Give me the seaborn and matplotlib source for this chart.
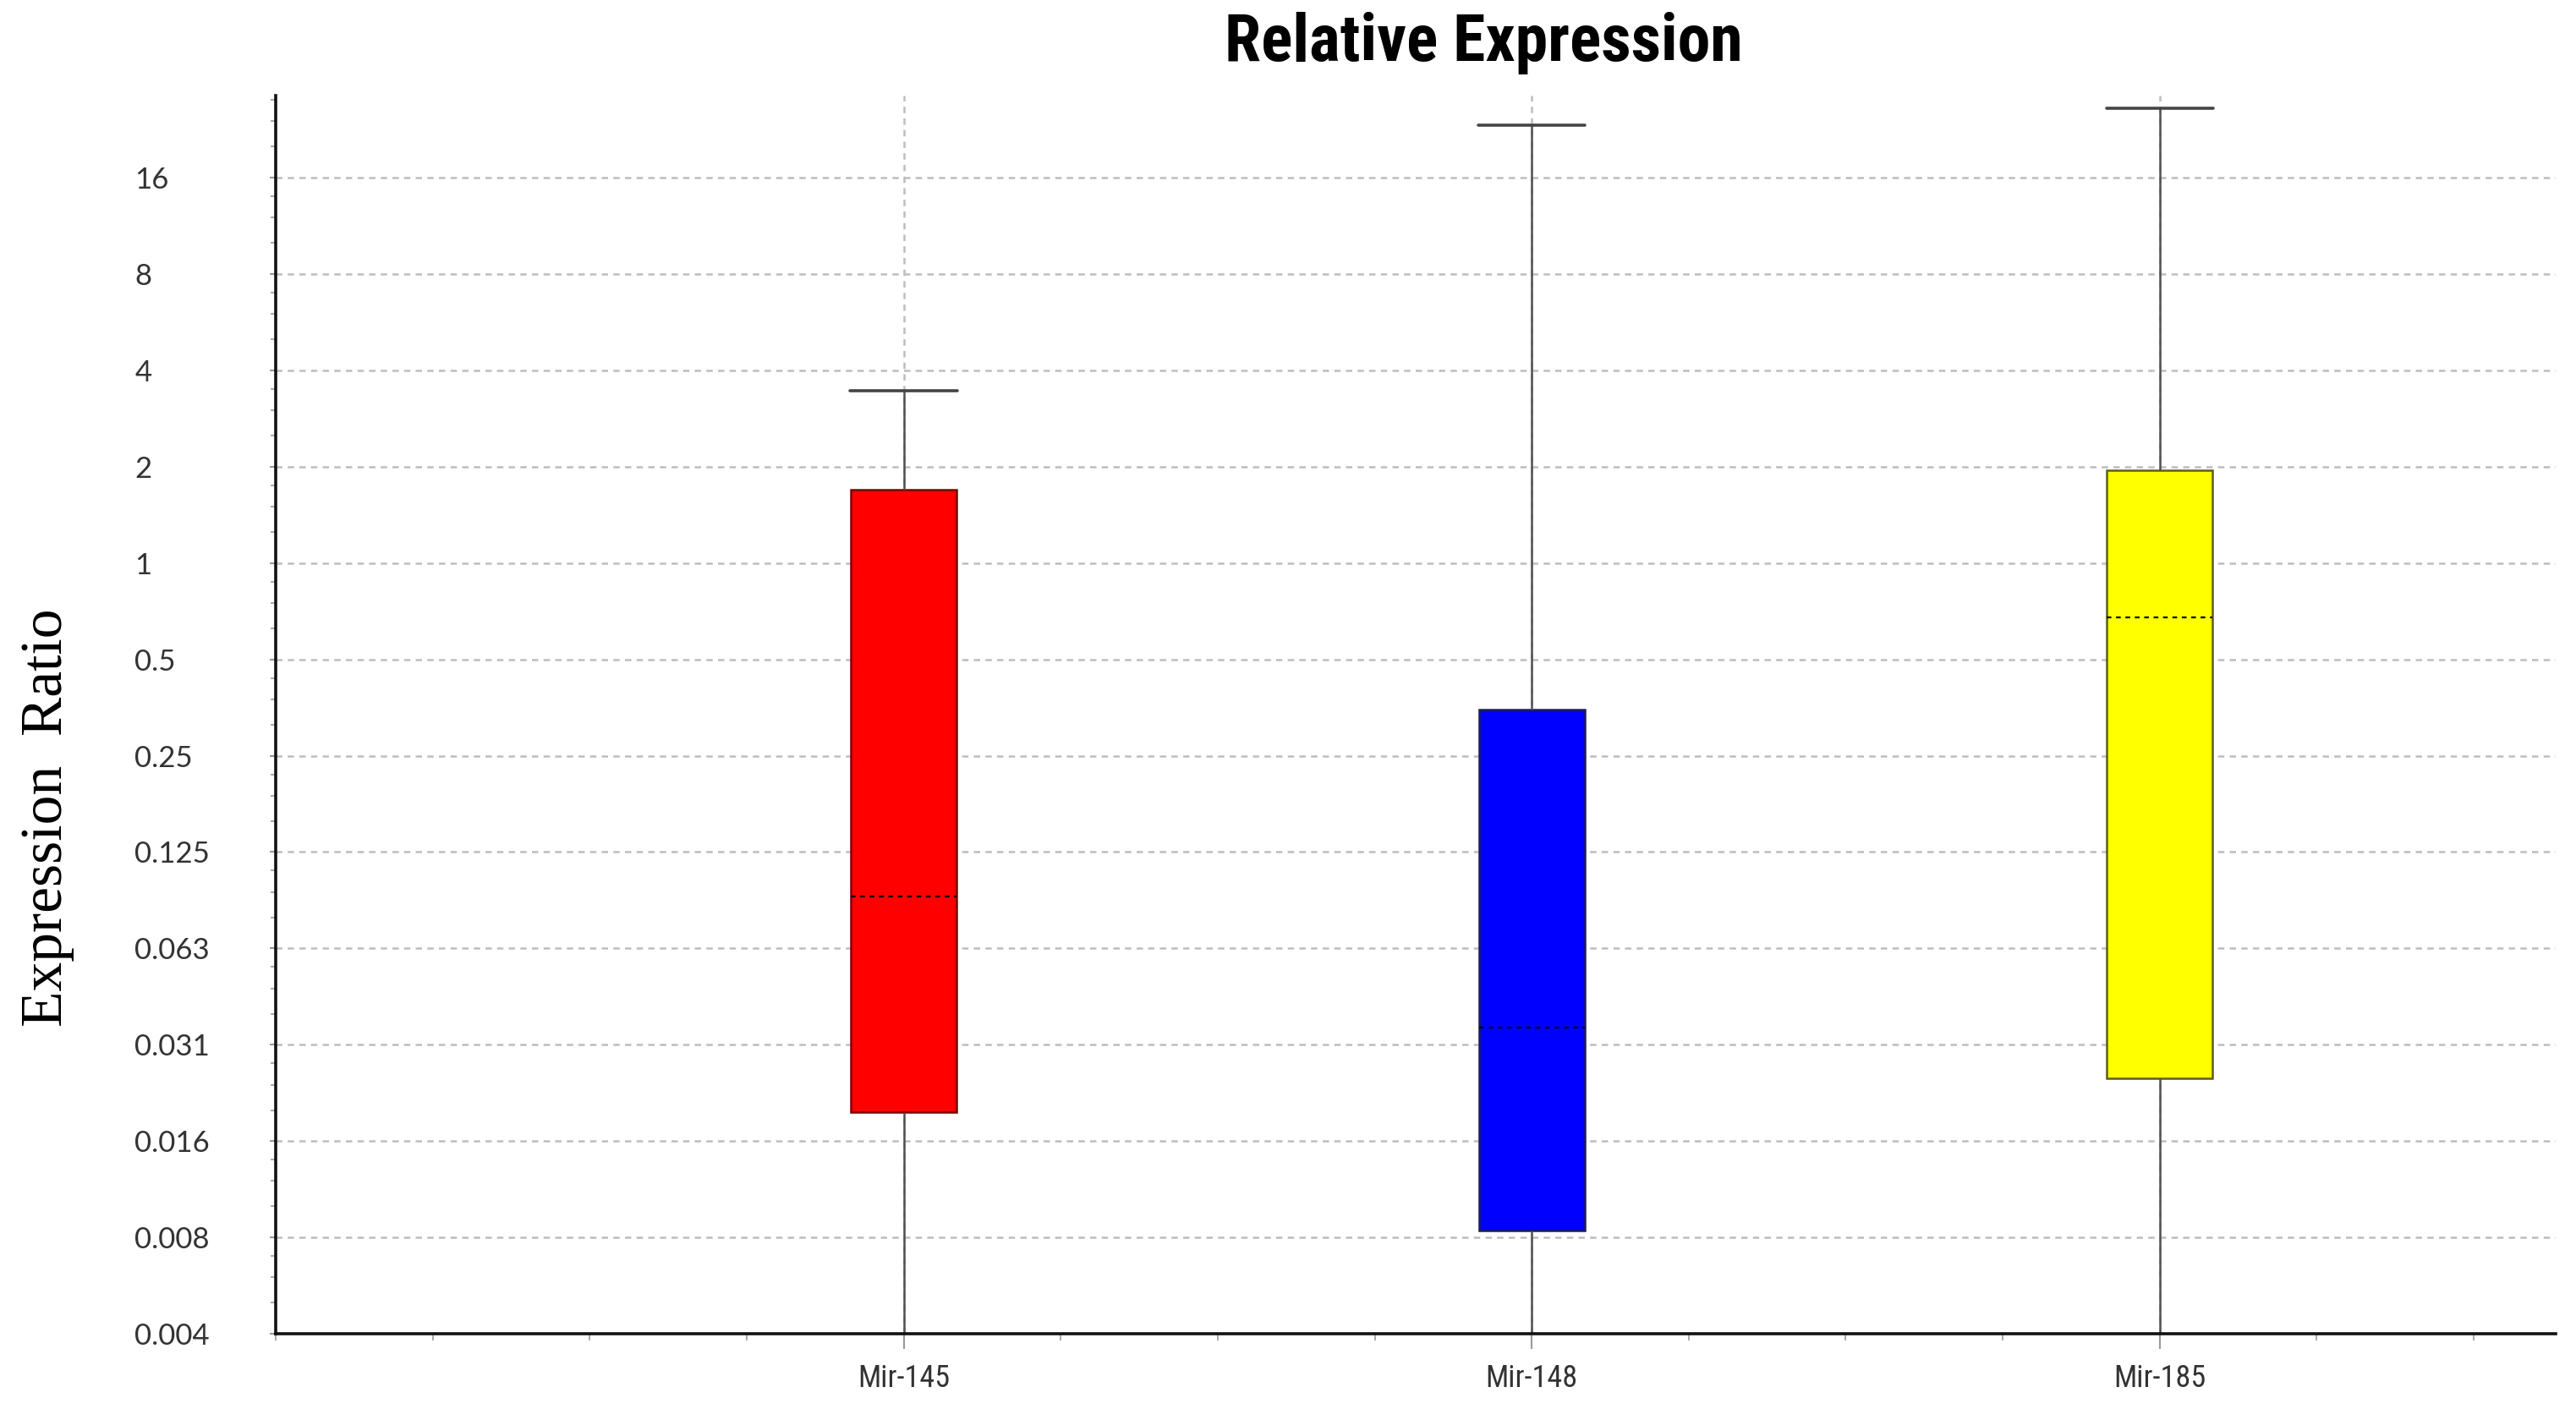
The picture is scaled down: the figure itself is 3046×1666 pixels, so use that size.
import numpy as np
import pandas as pd
import seaborn as sns
import matplotlib.pyplot as plt
from matplotlib import font_manager
from matplotlib.ticker import LogLocator, MultipleLocator, NullFormatter

categories = ["Mir-145", "Mir-148", "Mir-185"]
whisker_low = [0.003, 0.003, 0.003]  # lower whiskers run past the bottom of the axis
q1 = [0.0193, 0.0082, 0.0245]
median = [0.091, 0.0354, 0.675]
q3 = [1.70, 0.349, 1.95]
whisker_high = [3.45, 23.3, 26.3]

box_colors = ["#ff0000", "#0000ff", "#ffff00"]
edge_colors = ["#7a0000", "#1c1c5c", "#5c5c1c"]

ytick_values = [2.0 ** k for k in range(-8, 5)]
ytick_labels = ["0.004", "0.008", "0.016", "0.031", "0.063", "0.125",
                "0.25", "0.5", "1", "2", "4", "8", "16"]

# five points per group, so the quartiles land exactly on the values
rows = []
for i, c in enumerate(categories):
    for v in (whisker_low[i], q1[i], median[i], q3[i], whisker_high[i]):
        rows.append({"miRNA": c, "ratio": v})
df = pd.DataFrame(rows)

sns.set_style("white")
installed = {f.name for f in font_manager.fontManager.ttflist}
narrow = "Liberation Sans"
for cand in ["Liberation Sans Narrow", "Roboto Condensed", "Open Sans Condensed", "DejaVu Sans Condensed"]:
    if cand in installed:
        narrow = cand
        break
has_narrow = narrow != "Liberation Sans"

fig = plt.figure(figsize=(30.46, 16.66), dpi=100)
ax = fig.add_axes([0.107, 0.0534, 0.885, 0.8786])

sns.boxplot(
    data=df, x="miRNA", y="ratio", hue="miRNA", order=categories, hue_order=categories,
    palette=box_colors, saturation=1, legend=False, width=0.168, whis=(0, 100), log_scale=2,
    linewidth=1.6, linecolor="#555555",
    medianprops=dict(color="black", linestyle=(0, (2.5, 2.5)), linewidth=1.6),
    whiskerprops=dict(color="#505050", linewidth=1.8),
    capprops=dict(color="#444444", linewidth=2.6),
    capwidths=0.17, ax=ax,
)

for patch, ec in zip(ax.patches, edge_colors):
    patch.set_edgecolor(ec)
    patch.set_linewidth(1.8)

ax.set_ylim(2 ** -8, 2 ** 4.85)
ax.set_xlim(-1.0, 2.63)
ax.set_yticks(ytick_values, labels=ytick_labels)
ax.yaxis.set_minor_locator(LogLocator(base=2, subs=(1.25, 1.5, 1.75), numticks=40))
ax.yaxis.set_minor_formatter(NullFormatter())
ax.xaxis.set_minor_locator(MultipleLocator(0.25))

ax.set_axisbelow(True)
grid_kw = dict(color="#bdbdbd", linestyle=(0, (3, 2.5)), linewidth=1.8)
ax.yaxis.grid(True, which="major", **grid_kw)
ax.xaxis.grid(True, which="major", **grid_kw)

for s in ["top", "right"]:
    ax.spines[s].set_visible(False)
for s in ["left", "bottom"]:
    ax.spines[s].set_color("#111111")
    ax.spines[s].set_linewidth(2.6)

ax.tick_params(which="both", left=True, bottom=True, direction="out")
ax.tick_params(axis="y", which="major", length=5, width=1.5, color="#999999",
               pad=115, labelsize=25, labelcolor="#333333")
ax.tick_params(axis="y", which="minor", length=4, width=1.2, color="#999999")
ax.tick_params(axis="x", which="major", length=13, width=1.5, color="#999999",
               pad=12, labelsize=26 if has_narrow else 23, labelcolor="#333333")
ax.tick_params(axis="x", which="minor", length=6, width=1.2, color="#999999")
for lbl in ax.get_yticklabels():
    lbl.set_ha("left")
    lbl.set_fontfamily("Lato")
for lbl in ax.get_xticklabels():
    lbl.set_fontfamily(narrow)

ax.set_xlabel("")
ax.set_ylabel("")

fig.text(0.576, 0.957, "Relative Expression", ha="center", va="baseline", color="black",
         fontsize=56 if has_narrow else 49, fontweight="bold", family=narrow)
fig.text(0.0184, 0.42, "Expression  Ratio", rotation=90, ha="center", va="center",
         color="black", fontsize=50, family="Liberation Serif")

fig.savefig("out.png", dpi=100)
